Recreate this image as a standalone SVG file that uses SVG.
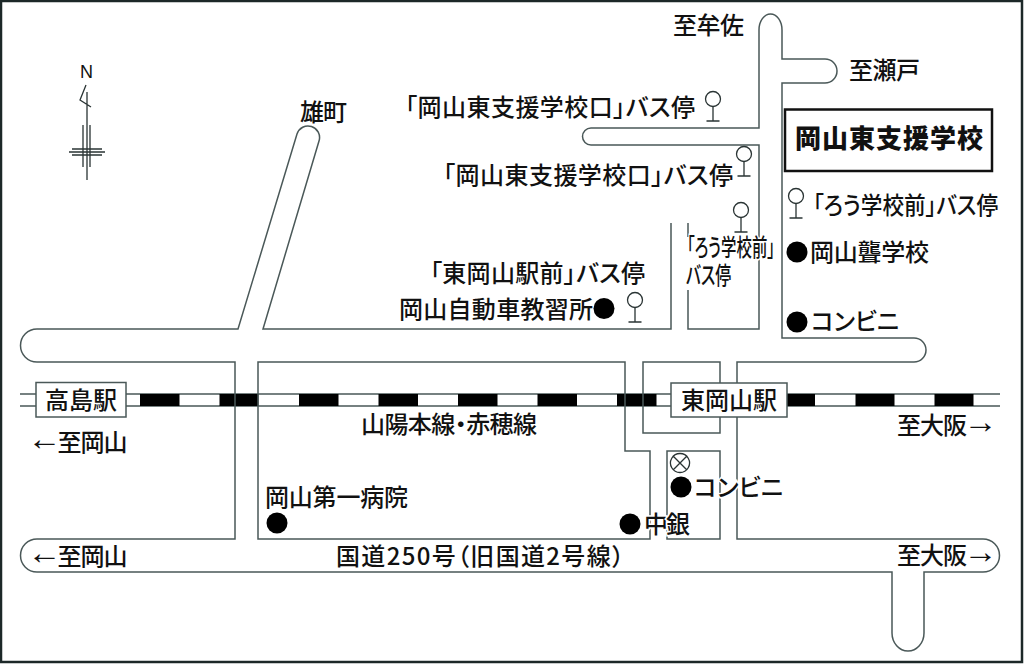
<svg xmlns="http://www.w3.org/2000/svg" width="1024" height="664" viewBox="0 0 1024 664">
<style>
text{font-family:"Noto Sans CJK JP","Noto Sans",sans-serif;font-size:24px;fill:#111;font-weight:500;font-feature-settings:"palt"}
.a{font-family:"Liberation Sans",sans-serif;font-size:34px}
.h{paint-order:stroke;stroke:#fff;stroke-width:3px}
.road{fill:none;stroke:#4a5858;stroke-width:1.5}
.thin{fill:none;stroke:#2a3434;stroke-width:1.3}
.st{fill:#fff;stroke:#4a5858;stroke-width:1.5}
.blk{fill:#000}
.rail{stroke:#4a5858;stroke-width:1.3;fill:none}
</style>
<defs>
<g id="stop" class="thin"><circle cx="0" cy="0" r="7.5"/><path d="M0 7.5V22M-6.500 22H6.500"/></g>
</defs>
<rect width="1024" height="664" fill="#fff"/>
<rect x="1" y="1" width="1021" height="661" fill="none" stroke="#1c2828" stroke-width="2.500"/>
<g id="connectors">
<g id="railway">
<path class="rail" d="M20 394H1000M20 406H1000"/>
<path class="blk" d="M140 394h39.500v12h-39.500zM219.500 394h39v12h-39zM299 394h39.500v12h-39.500zM378.500 394h39.500v12h-39.500zM458 394h39.500v12h-39.500zM537.500 394h39.500v12h-39.500zM617 394h39.500v12h-39.500zM696.500 394h39.500v12h-39.500zM776 394h39v12h-39zM855.500 394h39v12h-39zM934.500 394h39v12h-39z"/>
</g>
<path class="road" d="M671 223V329H263L319 141A11.500 11.500 0 0 0 297 134L238 329H37A16.500 16.500 0 0 0 37 362H235V539H37A16.500 16.500 0 0 0 37 572H892V633A16 18 0 0 0 924 633V572H983A16.500 16.500 0 0 0 983 539H737V362H914A12 12 0 0 0 914 338H782V83H825A12 12 0 0 0 825 59H782V30A11.500 16 0 0 0 759 30V128H591A8.500 8.500 0 0 0 591 145H759V329H688V290M688 237V223" />
<path class="road" d="M258 539V362H625V451H650V539ZM643 362H720V433H643ZM667 451H720V539H667Z"/>
</g>
<g id="stations">
<g id="takashima"><rect class="st" x="36" y="382.500" width="90" height="34.500"/><text x="45" y="409" textLength="72">高島駅</text></g>
<g id="higashiokayama"><rect class="st" x="671" y="383" width="116" height="34"/><text x="681" y="409" textLength="96">東岡山駅</text></g>
</g>
<g id="school"><rect x="785" y="109.500" width="207" height="61.500" fill="#fff" stroke="#111" stroke-width="2.500"/><text x="795" y="148" textLength="188" style="font-size:26px;font-weight:900">岡山東支援学校</text></g>
<g id="compass">
<text x="80" y="78" style="font-family:'Liberation Sans',sans-serif;font-size:18px;font-weight:400">N</text>
<path class="thin" d="M86 85L80 100L91 107M87 92V180M83 125V167M90 125V167M72 149H102M72 155H102M69 152H105"/>
</g>
<g id="labels">
<text x="673" y="34" textLength="71">至牟佐</text>
<text x="849" y="79" textLength="71">至瀬戸</text>
<text x="300" y="121" textLength="47">雄町</text>
<text x="405" y="116" textLength="290">「岡山東支援学校口」バス停</text>
<text x="443" y="184" textLength="290">「岡山東支援学校口」バス停</text>
<text x="430" y="282" textLength="215">「東岡山駅前」バス停</text>
<text x="399" y="318" textLength="194">岡山自動車教習所</text>
<text x="813" y="214" textLength="185" lengthAdjust="spacingAndGlyphs">「ろう学校前」バス停</text>
<text x="810" y="261" textLength="119">岡山聾学校</text>
<text x="811" y="330" textLength="88">コンビニ</text>
<text class="h" x="687" y="256" textLength="88" lengthAdjust="spacingAndGlyphs">「ろう学校前」</text>
<text x="686" y="284" textLength="45" lengthAdjust="spacingAndGlyphs">バス停</text>
<text x="361" y="433" textLength="176">山陽本線・赤穂線</text>
<text x="27.500" y="450"><tspan class="a">←</tspan><tspan x="57.500" y="451" letter-spacing="-1">至岡山</tspan></text>
<text x="27.500" y="564"><tspan class="a">←</tspan><tspan x="57.500" y="565" letter-spacing="-1">至岡山</tspan></text>
<text x="897" y="434" letter-spacing="-1">至大阪<tspan class="a" x="963.500" y="433" letter-spacing="0">→</tspan></text>
<text x="897" y="564" letter-spacing="-1">至大阪<tspan class="a" x="963.500" y="563" letter-spacing="0">→</tspan></text>
<text x="265" y="506" textLength="143">岡山第一病院</text>
<text x="336" y="565" textLength="288">国道250号（旧国道2号線）</text>
<text class="h" x="644" y="533" textLength="46">中銀</text>
<text class="h" x="694" y="496" textLength="89">コンビニ</text>
</g>
<g id="markers">
<circle class="blk" cx="604" cy="308.500" r="10.500"/>
<circle class="blk" cx="797" cy="252" r="10.500"/>
<circle class="blk" cx="797" cy="322" r="10.500"/>
<circle class="blk" cx="277" cy="523" r="10.500"/>
<circle class="blk" cx="630" cy="524" r="10.500"/>
<circle class="blk" cx="681" cy="487" r="10.500"/>
<path class="thin" d="M680 453.500a9.500 9.500 0 1 0 0.010 0M673.300 456.300L686.700 469.700M686.700 456.300L673.300 469.700"/>
<use href="#stop" x="713" y="99"/>
<use href="#stop" x="744" y="154"/>
<use href="#stop" x="741" y="210"/>
<use href="#stop" x="635" y="300"/>
<use href="#stop" x="796" y="196"/>
</g>
</svg>
